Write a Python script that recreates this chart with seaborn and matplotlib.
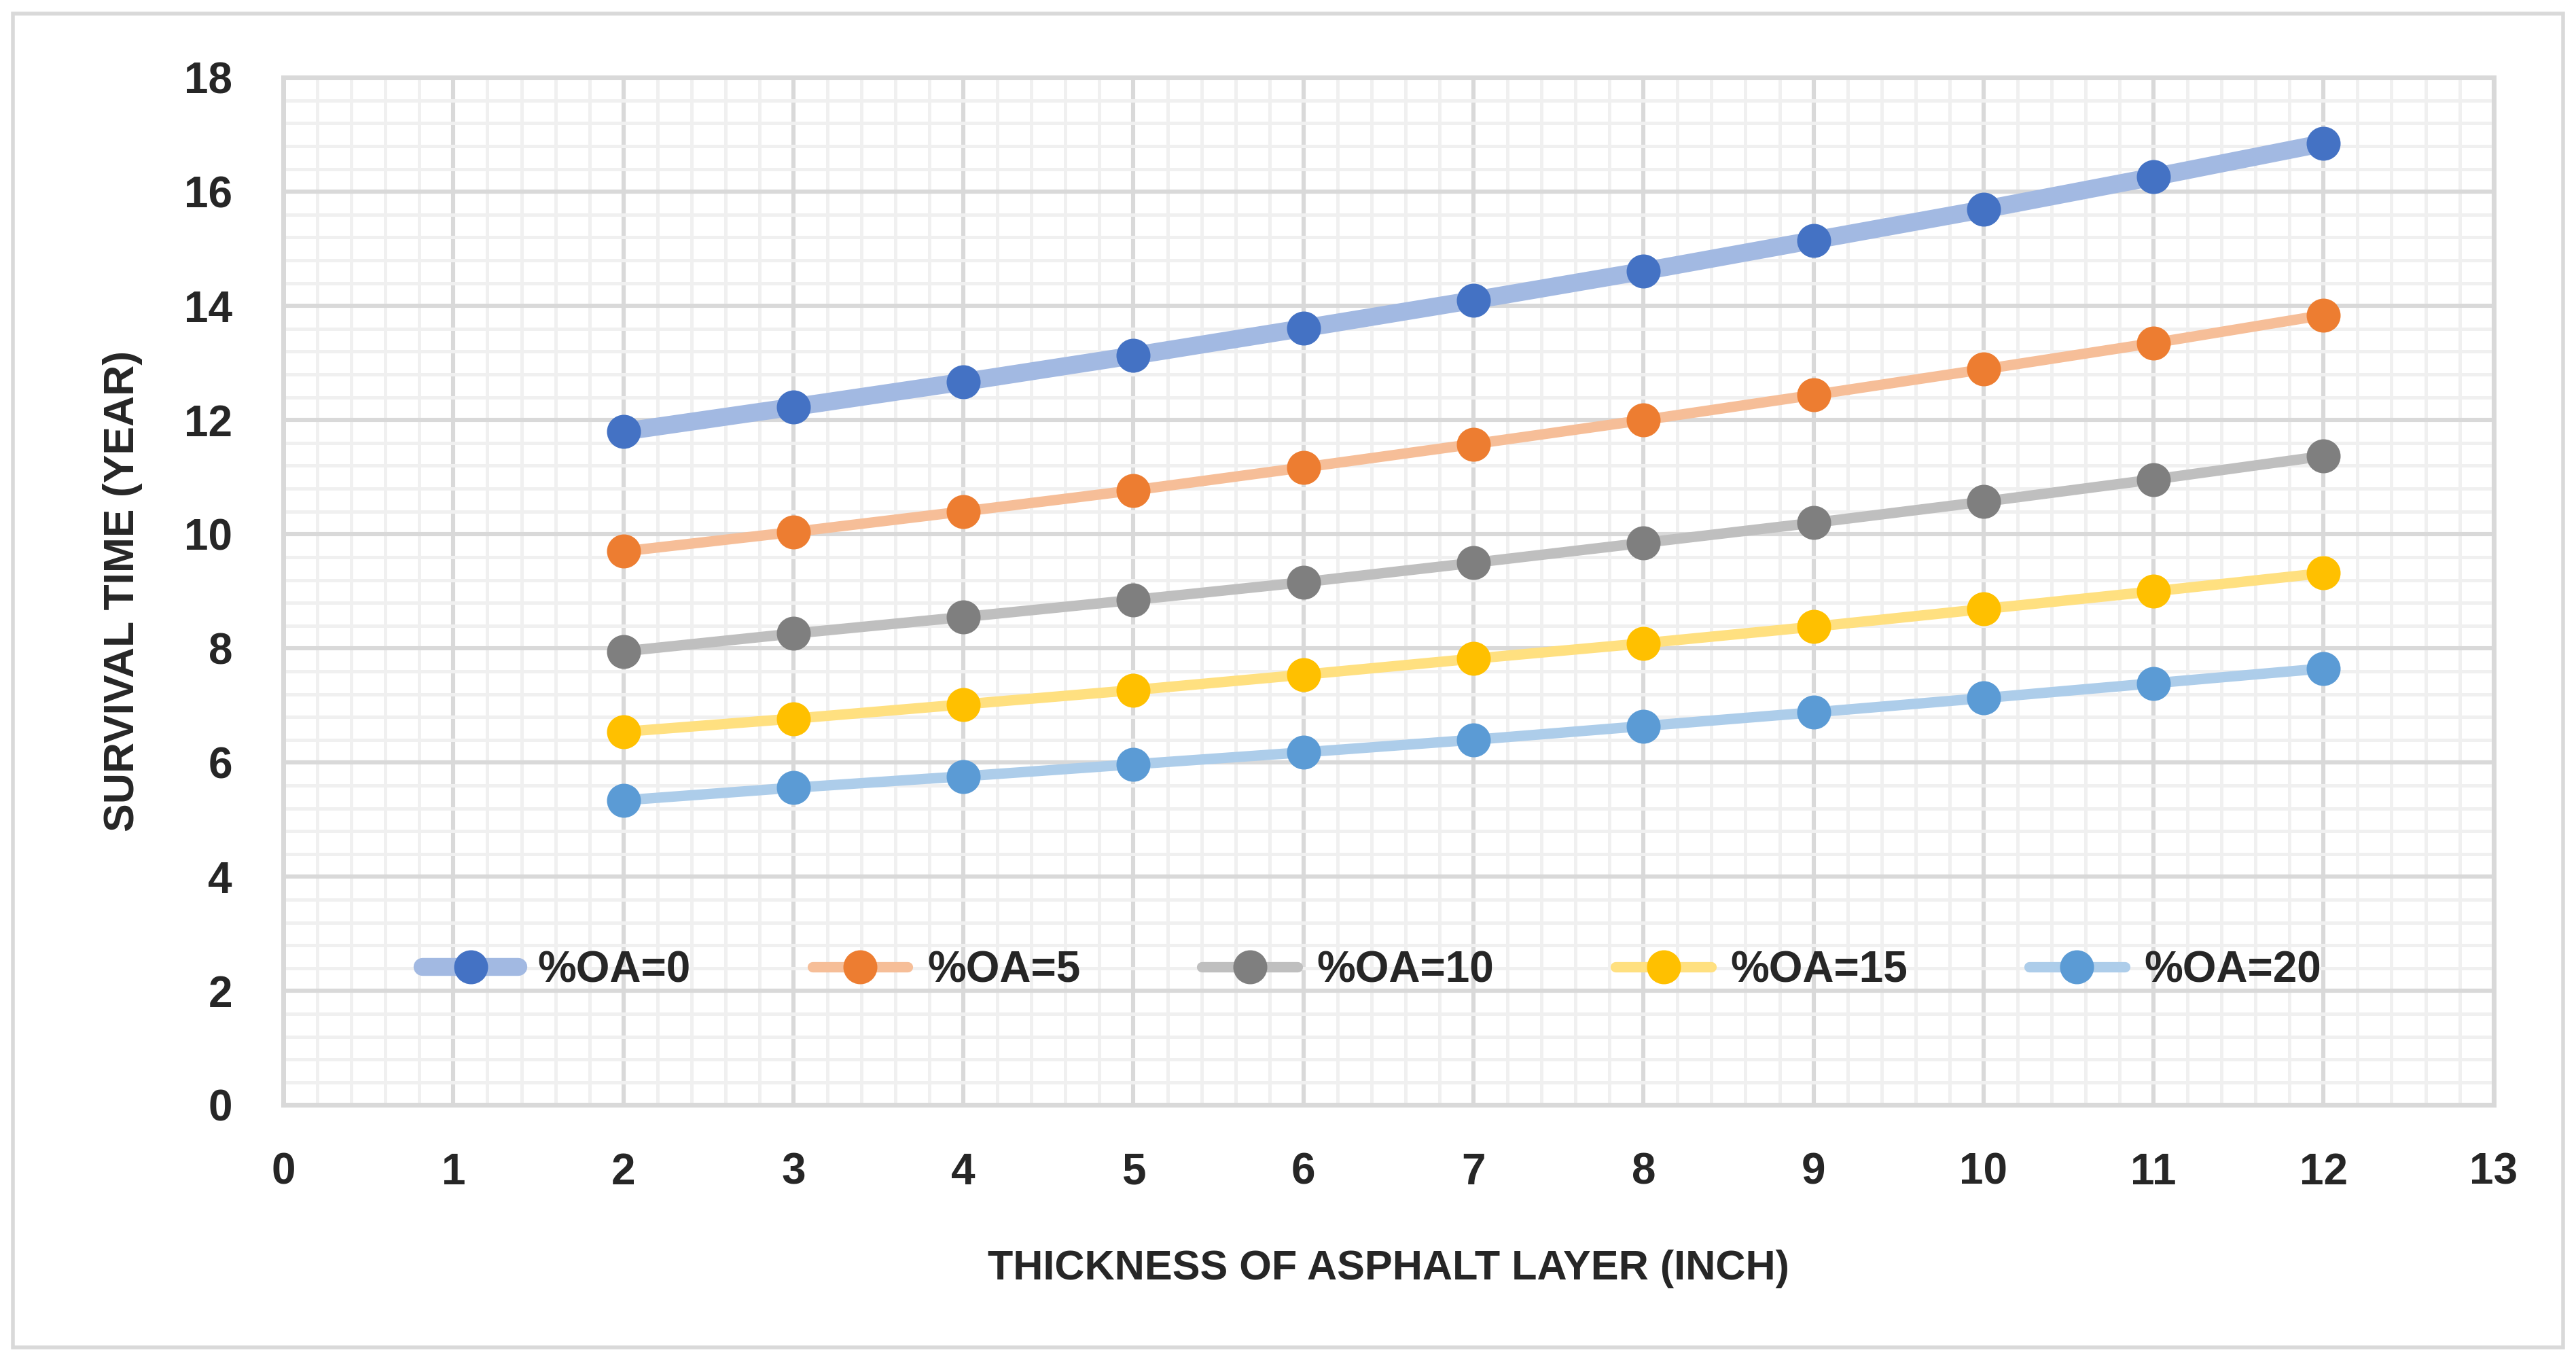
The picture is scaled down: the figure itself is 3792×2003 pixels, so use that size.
import matplotlib
matplotlib.use("Agg")
import matplotlib.pyplot as plt
from matplotlib.ticker import MultipleLocator
from matplotlib.patches import Rectangle
import matplotlib.colors as mcolors
import seaborn as sns
import pandas as pd
import numpy as np

thickness = [2, 3, 4, 5, 6, 7, 8, 9, 10, 11, 12]
oa_0 = [11.80, 12.23, 12.67, 13.13, 13.61, 14.10, 14.61, 15.15, 15.69, 16.26, 16.85]
oa_5 = [9.70, 10.04, 10.40, 10.77, 11.17, 11.58, 12.00, 12.44, 12.89, 13.35, 13.84]
oa_10 = [7.95, 8.26, 8.55, 8.85, 9.16, 9.50, 9.85, 10.20, 10.57, 10.96, 11.37]
oa_15 = [6.54, 6.77, 7.02, 7.27, 7.54, 7.82, 8.09, 8.38, 8.69, 9.00, 9.32]
oa_20 = [5.34, 5.56, 5.76, 5.97, 6.18, 6.40, 6.64, 6.88, 7.13, 7.39, 7.65]
series_labels = ["%OA=0", "%OA=5", "%OA=10", "%OA=15", "%OA=20"]
series_values = [oa_0, oa_5, oa_10, oa_15, oa_20]
series_colors = ["#4472C4", "#ED7D31", "#7F7F7F", "#FFC000", "#5B9BD5"]
line_widths = [9.5, 5.5, 5.5, 5.5, 5.5]
x_label = "THICKNESS OF ASPHALT LAYER (INCH)"
y_label = "SURVIVAL TIME (YEAR)"

sns.set_theme(style="white")
plt.rcParams['font.family'] = ['Liberation Sans Narrow', 'Liberation Sans', 'DejaVu Sans']
plt.rcParams['font.weight'] = 'bold'

fig = plt.figure(figsize=(18.96, 10.015), dpi=200)
ax = fig.add_axes([0.110, 0.188, 0.858, 0.755])


def lighten(c, f=0.5):
    r, g, b = mcolors.to_rgb(c)
    return (1 - f + f * r, 1 - f + f * g, 1 - f + f * b)

frames = []
for lab, vals in zip(series_labels, series_values):
    frames.append(pd.DataFrame({"x": thickness, "y": vals, "series": lab}))
df = pd.concat(frames, ignore_index=True)

for lab, col, lw in zip(series_labels, series_colors, line_widths):
    sub = df[df["series"] == lab]
    sns.lineplot(data=sub, x="x", y="y", ax=ax, color=lighten(col, 0.5), linewidth=lw,
                 marker="o", markersize=17, markerfacecolor=col, markeredgecolor=col,
                 markeredgewidth=1, label=lab, zorder=3)

ax.set_xlim(0, 13)
ax.set_ylim(0, 18)
ax.xaxis.set_major_locator(MultipleLocator(1))
ax.yaxis.set_major_locator(MultipleLocator(2))
ax.xaxis.set_minor_locator(MultipleLocator(0.2))
ax.yaxis.set_minor_locator(MultipleLocator(0.4))
ax.set_axisbelow(True)
ax.grid(which="minor", color="#f0f0f0", linewidth=1.8, zorder=0)
ax.grid(which="major", color="#d9d9d9", linewidth=2.2, zorder=1)
ax.tick_params(which="both", length=0)
ax.tick_params(axis="y", pad=27, labelsize=23)
ax.tick_params(axis="x", pad=25, labelsize=23)
for t in ax.get_xticklabels() + ax.get_yticklabels():
    t.set_fontweight("bold")
for s in ax.spines.values():
    s.set_color("#d9d9d9")
    s.set_linewidth(2.5)

ax.set_xlabel(x_label, fontsize=22, fontweight="bold", labelpad=30)
ax.set_ylabel(y_label, fontsize=22.5, fontweight="bold", labelpad=22)

leg = ax.legend(loc="center", bbox_to_anchor=(0.4926, 2.36 / 18), ncol=5, frameon=False,
                fontsize=23, handlelength=2.2, handletextpad=0.45, columnspacing=2.8,
                numpoints=1, borderaxespad=0)
for t in leg.get_texts():
    t.set_fontweight("bold")

fig.patches.append(Rectangle((0.005, 0.01), 0.99, 0.98, transform=fig.transFigure,
                             fill=False, edgecolor="#d9d9d9", linewidth=2.0))

fig.savefig("out.png", dpi=200, facecolor="white")
